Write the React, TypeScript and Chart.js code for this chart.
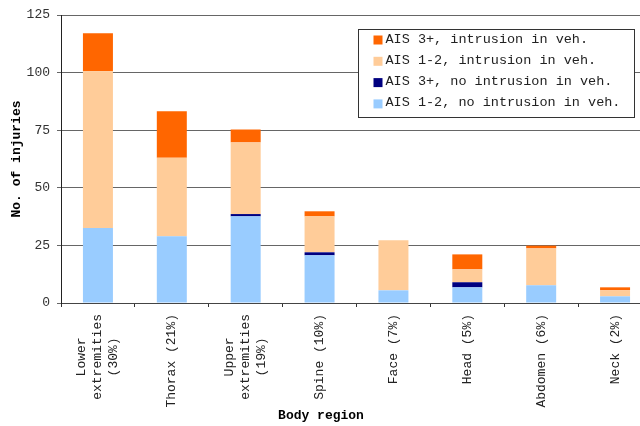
import { useEffect, useRef } from "react";
import { Chart, registerables } from "chart.js";

Chart.register(...registerables);

// Body regions (with share of all injuries), one tick label per line
const regions: string[][] = [
  ["Lower", "extremities", "(30%)"],
  ["Thorax (21%)"],
  ["Upper", "extremities", "(19%)"],
  ["Spine (10%)"],
  ["Face (7%)"],
  ["Head (5%)"],
  ["Abdomen (6%)"],
  ["Neck (2%)"],
];

// Injury counts per region, stacked bottom to top
const minorNoIntrusion = [32.6, 29, 37.6, 20.7, 5.5, 6.8, 7.7, 2.9];
const severeNoIntrusion = [0, 0, 1, 1.3, 0, 2.2, 0, 0];
const minorIntrusion = [68, 34, 31.1, 15.6, 21.7, 5.6, 16, 2.6];
const severeIntrusion = [16.5, 20.2, 5.6, 2.2, 0, 6.5, 1.2, 1.3];

const seriesNames = [
  "AIS 1-2, no intrusion in veh.",
  "AIS 3+, no intrusion in veh.",
  "AIS 1-2, intrusion in veh.",
  "AIS 3+, intrusion in veh.",
];

const yTicks = [0, 25, 50, 75, 100, 125];
const xTitle = "Body region";
const yTitle = "No. of injuries";

const FONT = '"Liberation Mono", "Courier New", monospace';

// Rotated, centred multi-line category labels plus the x axis title
const categoryLabels = {
  id: "categoryLabels",
  afterDraw(chart: Chart) {
    const { ctx } = chart;
    const x = chart.scales.x;
    const lineH = 16;
    ctx.save();
    ctx.font = `13px ${FONT}`;
    ctx.fillStyle = "#222";
    ctx.textAlign = "center";
    ctx.textBaseline = "middle";
    regions.forEach((lines, i) => {
      const px = x.getPixelForTick(i);
      const maxW = Math.max(...lines.map((l) => ctx.measureText(l).width));
      const cy = x.top + 11 + maxW / 2;
      lines.forEach((line, j) => {
        ctx.save();
        ctx.translate(px + (j - (lines.length - 1) / 2) * lineH, cy);
        ctx.rotate(-Math.PI / 2);
        ctx.fillText(line, 0, 0);
        ctx.restore();
      });
    });
    ctx.font = `bold 13px ${FONT}`;
    ctx.fillStyle = "#000";
    ctx.fillText(xTitle, 321, 416);
    ctx.restore();
  },
};

// Boxed legend in the upper right of the plot, top series first
const boxLegend = {
  id: "boxLegend",
  afterDraw(chart: Chart) {
    const { ctx } = chart;
    const left = 358.5;
    const top = 29.5;
    const w = 276;
    const h = 88;
    ctx.save();
    ctx.fillStyle = "#fff";
    ctx.fillRect(left, top, w, h);
    ctx.strokeStyle = "#333";
    ctx.lineWidth = 1;
    ctx.strokeRect(left, top, w, h);
    ctx.font = `13.5px ${FONT}`;
    ctx.textBaseline = "middle";
    ctx.textAlign = "left";
    const sets = [...chart.data.datasets].reverse();
    sets.forEach((ds, i) => {
      const cy = top + 10.5 + i * 21.3;
      ctx.fillStyle = ds.backgroundColor as string;
      ctx.fillRect(left + 15, cy - 4.5, 9, 9);
      ctx.fillStyle = "#222";
      ctx.fillText(ds.label as string, left + 27, cy - 1);
    });
    ctx.restore();
  },
};

export default function App() {
  const ref = useRef<HTMLCanvasElement>(null);

  useEffect(() => {
    if (!ref.current) return;
    const colors = ["#99CCFF", "#000080", "#FFCC99", "#FF6600"];
    const values = [minorNoIntrusion, severeNoIntrusion, minorIntrusion, severeIntrusion];
    const chart = new Chart(ref.current, {
      type: "bar",
      data: {
        labels: regions.map((r) => r.join(" ")),
        datasets: values.map((data, i) => ({
          label: seriesNames[i],
          data,
          backgroundColor: colors[i],
          borderWidth: 0,
          barPercentage: 0.406,
          categoryPercentage: 1,
        })),
      },
      options: {
        responsive: false,
        animation: false,
        devicePixelRatio: 1,
        layout: { autoPadding: false, padding: { top: 15, left: 0, right: 0, bottom: 0 } },
        plugins: {
          legend: { display: false },
          tooltip: { enabled: false },
        },
        scales: {
          x: {
            stacked: true,
            afterFit: (s: any) => {
              s.height = 123;
            },
            ticks: { display: false },
            grid: {
              display: true,
              drawOnChartArea: false,
              drawTicks: true,
              tickLength: 4,
              color: "#333",
              offset: true,
            },
            border: { display: true, color: "#444", width: 1 },
          },
          y: {
            stacked: true,
            min: 0,
            max: 125,
            afterFit: (s: any) => {
              s.width = 61;
            },
            afterBuildTicks: (s: any) => {
              s.ticks = yTicks.map((v) => ({ value: v }));
            },
            ticks: {
              color: "#333",
              padding: 7,
              font: { family: FONT, size: 13 },
            },
            grid: {
              color: "#666",
              tickLength: 4,
              drawTicks: true,
            },
            border: { display: true, color: "#222", width: 1 },
            title: {
              display: true,
              text: yTitle,
              color: "#000",
              font: { family: FONT, size: 13, weight: "bold" },
              padding: { top: 9, bottom: 0 },
            },
          },
        },
      },
      plugins: [categoryLabels, boxLegend],
    });
    return () => chart.destroy();
  }, []);

  return (
    <div
      style={{
        position: "absolute",
        left: 0,
        top: 0,
        width: 640,
        height: 426,
        overflow: "hidden",
        background: "#fff",
      }}
    >
      <canvas ref={ref} width={652} height={426} style={{ display: "block" }} />
    </div>
  );
}
